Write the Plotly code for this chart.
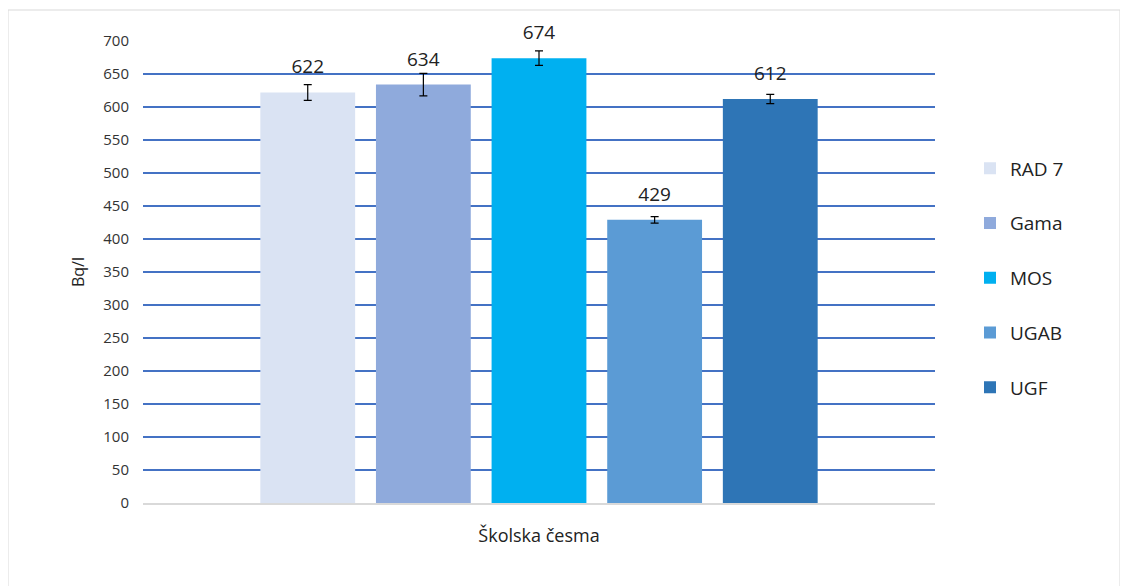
import plotly.graph_objects as go

category = ["Školska česma"]
series = ["RAD 7", "Gama", "MOS", "UGAB", "UGF"]
values = [622, 634, 674, 429, 612]
errors = [12, 17, 11, 5, 7]
colors = ["#DAE3F3", "#8FAADC", "#00B0F0", "#5B9BD5", "#2E75B6"]
y_ticks = list(range(0, 701, 50))

font_family = "Open Sans, Noto Sans, sans-serif"

fig = go.Figure()
for i, name in enumerate(series):
    fig.add_trace(go.Bar(
        x=category, y=[values[i]], name=name,
        marker=dict(color=colors[i], line=dict(width=0)),
        error_y=dict(type="data", array=[errors[i]], color="black", thickness=1.2, width=4),
        text=[f"<span style='font-size:19px'>{values[i]}</span><br> "],
        textposition="outside",
        textfont=dict(size=10, color="#222222", family=font_family),
        cliponaxis=False, legendgroup=name,
    ))

fig.update_layout(
    template="plotly_white",
    width=1128, height=586,
    margin=dict(l=135, r=201, t=33, b=91),
    barmode="group", bargap=0.27, bargroupgap=0.18,
    paper_bgcolor="white", plot_bgcolor="white",
    font=dict(family=font_family, size=15, color="#333333"),
    uniformtext=dict(mode="show", minsize=1),
    legend=dict(
        x=1 + 35 / 792, y=0.487, xanchor="left", yanchor="middle",
        font=dict(size=19, color="#222222"),
        traceorder="grouped", tracegroupgap=27,
        itemwidth=30,
    ),
    yaxis=dict(
        range=[0, 700], tickvals=y_ticks,
        showgrid=True, gridcolor="#4472C4", gridwidth=1.5,
        zeroline=False, showline=False, ticks="", ticklabelstandoff=13,
        title=dict(text="Bq/l", font=dict(size=16, color="#222222"), standoff=14),
        tickfont=dict(size=15, color="#333333"),
    ),
    xaxis=dict(
        showgrid=False, showline=True, linecolor="#D9D9D9", linewidth=2,
        ticks="", ticklabelstandoff=15,
        tickfont=dict(size=18, color="#222222"),
    ),
    shapes=[dict(
        type="rect", xref="paper", yref="paper",
        x0=-135 / 792, x1=(1120 - 143) / 792, y0=-90 / 462, y1=1 + 31 / 462,
        line=dict(color="#D9D9D9", width=1), fillcolor="rgba(0,0,0,0)", layer="below",
    )],
)

fig.write_html("out.html")
